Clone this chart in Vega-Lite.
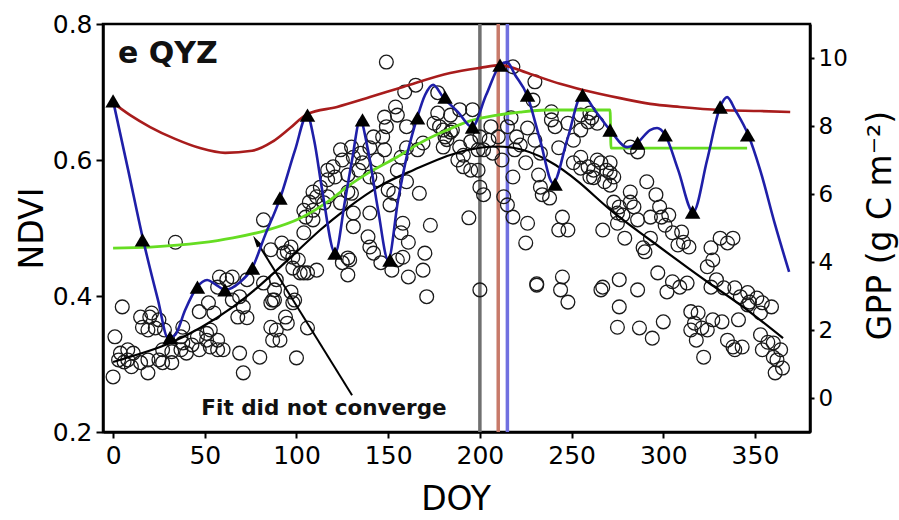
{
"$schema": "https://vega.github.io/schema/vega-lite/v6.json",
"width": 707, "height": 408,
"autosize": {"type": "none"},
"padding": {"left": 103, "top": 24, "right": 89, "bottom": 88},
"background": "white",
"config": {"font": "DejaVu Sans", "view": {"stroke": "black", "strokeWidth": 2.5},
 "axis": {"domainColor": "black", "domainWidth": 2.5, "tickColor": "black", "tickWidth": 2, "labelColor": "black", "titleColor": "black", "grid": false, "labelFont": "DejaVu Sans", "titleFont": "DejaVu Sans", "titleFontWeight": "normal"}},
"encoding": {"x": {"field": "d", "type": "quantitative", "scale": {"domain": [-5.5, 380], "nice": false, "zero": false},
  "axis": {"values": [0,50,100,150,200,250,300,350], "title": "DOY", "labelFontSize": 25, "titleFontSize": 33, "tickSize": 6, "labelPadding": 5, "titleX": 352.5, "titleY": 77, "titleAlign": "center", "titleBaseline": "alphabetic", "labelFlush": false}}},
"layer": [
 {"encoding": {"y": {"field": "n", "type": "quantitative", "scale": {"domain": [0.2, 0.8], "nice": false, "zero": false},
   "axis": {"orient": "left", "values": [0.2,0.4,0.6,0.8], "format": ".1f", "title": "NDVI", "labelFontSize": 25, "titleFontSize": 33, "tickSize": 7, "labelPadding": 4, "titleAngle": -90, "titleX": -61, "titleY": 204, "titleAlign": "center", "titleBaseline": "alphabetic"}}},
  "layer": [
   {"data": {"values": [{"d":200,"n":0.2,"n2":0.8,"c":"a"},{"d":210,"n":0.2,"n2":0.8,"c":"b"},{"d":215,"n":0.2,"n2":0.8,"c":"c"}]},
    "mark": {"type": "rule", "strokeWidth": 3.5},
    "encoding": {"y2": {"field": "n2"}, "color": {"field": "c", "type": "nominal", "scale": {"domain": ["a","b","c"], "range": ["#707070","#c87a6a","#7070e0"]}, "legend": null}}},
   {"data": {"values": [
{"d":0,"n":0.281},{"d":1,"n":0.340},{"d":5,"n":0.384},{"d":3,"n":0.306},{"d":4,"n":0.316},{"d":6,"n":0.303},{"d":8,"n":0.321},{"d":8,"n":0.306},{"d":10,"n":0.296},{"d":11,"n":0.316},{"d":15,"n":0.369},{"d":15,"n":0.302},{"d":16,"n":0.354},{"d":19,"n":0.350},{"d":19,"n":0.306},{"d":19,"n":0.287},{"d":20,"n":0.369},{"d":21,"n":0.375},{"d":23,"n":0.353},{"d":25,"n":0.365},{"d":25,"n":0.306},{"d":27,"n":0.321},{"d":27,"n":0.302},{"d":28,"n":0.350},{"d":32,"n":0.318},{"d":32,"n":0.302},{"d":34,"n":0.479},{"d":37,"n":0.340},{"d":37,"n":0.321},{"d":38,"n":0.354},{"d":38,"n":0.331},{"d":40,"n":0.316},{"d":43,"n":0.328},{"d":46,"n":0.340},{"d":47,"n":0.321},{"d":47,"n":0.377},
{"d":51,"n":0.345},{"d":51,"n":0.335},{"d":53,"n":0.325},{"d":53,"n":0.350},{"d":55,"n":0.375},{"d":57,"n":0.335},{"d":57,"n":0.321},{"d":57,"n":0.413},{"d":58,"n":0.428},{"d":60,"n":0.321},{"d":62,"n":0.424},{"d":65,"n":0.394},{"d":65,"n":0.428},{"d":68,"n":0.369},{"d":69,"n":0.316},{"d":69,"n":0.399},{"d":71,"n":0.384},{"d":71,"n":0.287},{"d":73,"n":0.368},{"d":73,"n":0.424},{"d":80,"n":0.310},{"d":82,"n":0.512},{"d":82,"n":0.419},{"d":86,"n":0.354},{"d":86,"n":0.390},{"d":86,"n":0.468},{"d":87,"n":0.335},{"d":87,"n":0.394},{"d":89,"n":0.350},{"d":89,"n":0.424},{"d":52,"n":0.390},
{"d":91,"n":0.335},{"d":92,"n":0.478},{"d":93,"n":0.463},{"d":95,"n":0.360},{"d":95,"n":0.465},{"d":97,"n":0.472},{"d":97,"n":0.406},{"d":98,"n":0.457},{"d":98,"n":0.390},{"d":98,"n":0.441},{"d":99,"n":0.394},{"d":100,"n":0.309},{"d":101,"n":0.453},{"d":102,"n":0.434},{"d":104,"n":0.493},{"d":104,"n":0.526},{"d":104,"n":0.434},{"d":105,"n":0.516},{"d":106,"n":0.353},{"d":106,"n":0.434},{"d":107,"n":0.538},{"d":109,"n":0.553},{"d":109,"n":0.526},{"d":109,"n":0.512},{"d":111,"n":0.546},{"d":111,"n":0.438},{"d":113,"n":0.560},{"d":115,"n":0.537},{"d":117,"n":0.571},{"d":117,"n":0.585},{"d":117,"n":0.546},{"d":88,"n":0.409},{"d":88,"n":0.394},{"d":94,"n":0.369},
{"d":120,"n":0.590},{"d":121,"n":0.575},{"d":124,"n":0.615},{"d":124,"n":0.537},{"d":125,"n":0.600},{"d":125,"n":0.449},{"d":128,"n":0.553},{"d":128,"n":0.456},{"d":128,"n":0.431},{"d":128,"n":0.578},{"d":129,"n":0.453},{"d":130,"n":0.619},{"d":130,"n":0.551},{"d":131,"n":0.604},{"d":131,"n":0.522},{"d":131,"n":0.502},{"d":134,"n":0.585},{"d":135,"n":0.610},{"d":136,"n":0.596},{"d":139,"n":0.487},{"d":140,"n":0.618},{"d":140,"n":0.575},{"d":140,"n":0.522},{"d":140,"n":0.472},{"d":142,"n":0.634},{"d":142,"n":0.463},{"d":144,"n":0.600},{"d":144,"n":0.571},{"d":146,"n":0.449},{"d":147,"n":0.634},{"d":148,"n":0.663},{"d":148,"n":0.615},{"d":149,"n":0.744},{"d":149,"n":0.649},{"d":150,"n":0.556},{"d":151,"n":0.534},{"d":152,"n":0.438},{"d":153,"n":0.551},{"d":154,"n":0.678},{"d":155,"n":0.666},{"d":155,"n":0.585},{"d":155,"n":0.453},{"d":157,"n":0.604},{"d":157,"n":0.493},{"d":158,"n":0.507},{"d":158,"n":0.457},{"d":159,"n":0.700},{"d":160,"n":0.649},{"d":160,"n":0.618},{"d":160,"n":0.568},{"d":161,"n":0.479},{"d":161,"n":0.428},{"d":165,"n":0.710},{"d":166,"n":0.615},{"d":167,"n":0.551},{"d":169,"n":0.438},{"d":169,"n":0.625},{"d":170,"n":0.463},{"d":171,"n":0.399},{"d":173,"n":0.504},{"d":175,"n":0.654},{"d":177,"n":0.669},{"d":177,"n":0.699},{"d":180,"n":0.644},{"d":181,"n":0.634},{"d":184,"n":0.641},
{"d":178,"n":0.649},{"d":180,"n":0.619},{"d":182,"n":0.630},{"d":184,"n":0.666},{"d":185,"n":0.644},{"d":188,"n":0.600},{"d":189,"n":0.674},{"d":189,"n":0.619},{"d":191,"n":0.607},{"d":191,"n":0.590},{"d":194,"n":0.515},{"d":195,"n":0.627},{"d":195,"n":0.585},{"d":196,"n":0.674},{"d":199,"n":0.615},{"d":199,"n":0.585},{"d":200,"n":0.634},{"d":200,"n":0.560},{"d":200,"n":0.409},{"d":202,"n":0.615},{"d":202,"n":0.549},{"d":205,"n":0.629},{"d":206,"n":0.649},{"d":207,"n":0.610},{"d":210,"n":0.634},{"d":212,"n":0.600},{"d":213,"n":0.546},{"d":215,"n":0.649},{"d":215,"n":0.534},{"d":217,"n":0.662},{"d":218,"n":0.516},{"d":218,"n":0.575},{"d":218,"n":0.737},{"d":219,"n":0.615},{"d":220,"n":0.634},{"d":222,"n":0.622},{"d":225,"n":0.596},{"d":225,"n":0.478},{"d":226,"n":0.507},{"d":226,"n":0.647},{"d":229,"n":0.688},{"d":230,"n":0.715},{"d":230,"n":0.629},{"d":231,"n":0.416},{"d":231,"n":0.418},{"d":232,"n":0.578},{"d":233,"n":0.610},{"d":233,"n":0.560},
{"d":234,"n":0.549},{"d":238,"n":0.544},{"d":239,"n":0.671},{"d":239,"n":0.659},{"d":241,"n":0.649},{"d":243,"n":0.618},{"d":243,"n":0.497},{"d":244,"n":0.409},{"d":245,"n":0.516},{"d":245,"n":0.428},{"d":248,"n":0.654},{"d":248,"n":0.391},{"d":248,"n":0.497},{"d":251,"n":0.629},{"d":251,"n":0.596},{"d":255,"n":0.666},{"d":255,"n":0.644},{"d":255,"n":0.604},{"d":255,"n":0.588},{"d":259,"n":0.656},{"d":259,"n":0.590},{"d":260,"n":0.669},{"d":260,"n":0.575},{"d":261,"n":0.662},{"d":262,"n":0.585},{"d":262,"n":0.574},{"d":264,"n":0.654},{"d":264,"n":0.600},{"d":266,"n":0.596},{"d":266,"n":0.409},{"d":267,"n":0.497},{"d":267,"n":0.413},{"d":268,"n":0.568},{"d":269,"n":0.585},{"d":271,"n":0.596},{"d":271,"n":0.581},{"d":271,"n":0.563},{"d":273,"n":0.575},{"d":273,"n":0.538},{"d":275,"n":0.522},{"d":275,"n":0.507},{"d":275,"n":0.354},{"d":276,"n":0.531},{"d":276,"n":0.424},{"d":276,"n":0.384},{"d":278,"n":0.519},{"d":279,"n":0.485},{"d":282,"n":0.619},{"d":282,"n":0.553},{"d":282,"n":0.538},{"d":284,"n":0.531},{"d":286,"n":0.612},{"d":286,"n":0.409},{"d":286,"n":0.512},{"d":287,"n":0.353},
{"d":289,"n":0.471},{"d":290,"n":0.465},{"d":291,"n":0.568},{"d":293,"n":0.516},{"d":293,"n":0.485},{"d":294,"n":0.338},{"d":296,"n":0.549},{"d":297,"n":0.434},{"d":298,"n":0.531},{"d":299,"n":0.516},{"d":300,"n":0.362},{"d":301,"n":0.504},{"d":302,"n":0.406},{"d":303,"n":0.519},{"d":305,"n":0.493},{"d":305,"n":0.421},{"d":308,"n":0.475},{"d":309,"n":0.413},{"d":310,"n":0.494},{"d":311,"n":0.479},{"d":313,"n":0.419},{"d":314,"n":0.472},{"d":315,"n":0.377},{"d":315,"n":0.350},{"d":317,"n":0.360},{"d":318,"n":0.335},{"d":319,"n":0.375},{"d":321,"n":0.353},{"d":322,"n":0.310},{"d":324,"n":0.350},{"d":324,"n":0.443},{"d":326,"n":0.471},{"d":326,"n":0.413},{"d":327,"n":0.453},{"d":327,"n":0.365},{"d":329,"n":0.424},{"d":331,"n":0.485},{"d":332,"n":0.362},{"d":333,"n":0.412},{"d":335,"n":0.478},{"d":335,"n":0.335},{"d":338,"n":0.485},{"d":339,"n":0.412},{"d":339,"n":0.321},{"d":341,"n":0.365},{"d":342,"n":0.399},{"d":343,"n":0.325},{"d":346,"n":0.405},{"d":346,"n":0.387},{"d":347,"n":0.391},{"d":351,"n":0.397},{"d":353,"n":0.375},{"d":353,"n":0.343},{"d":354,"n":0.390},{"d":354,"n":0.321},{"d":357,"n":0.332},{"d":359,"n":0.384},{"d":360,"n":0.331},{"d":360,"n":0.310},{"d":361,"n":0.287},{"d":362,"n":0.306},{"d":364,"n":0.321},{"d":365,"n":0.294},{"d":338,"n":0.325}
   ]},
    "mark": {"type": "point", "shape": "circle", "filled": false, "stroke": "#1a1a1a", "strokeWidth": 1.3, "size": 190, "opacity": 1},
    "encoding": {}},
   {"data": {"values": [{"d":0,"n":0.303},{"d":14.7,"n":0.315},{"d":29.4,"n":0.329},{"d":47.4,"n":0.353},{"d":65.4,"n":0.384},{"d":80.2,"n":0.416},{"d":96.5,"n":0.456},{"d":112.9,"n":0.497},{"d":127.6,"n":0.529},{"d":145.6,"n":0.562},{"d":163.6,"n":0.585},{"d":182.1,"n":0.606},{"d":200.1,"n":0.618},{"d":218.1,"n":0.618},{"d":236.6,"n":0.600},{"d":254.6,"n":0.566},{"d":271,"n":0.527},{"d":289,"n":0.490},{"d":307.5,"n":0.453},{"d":325.5,"n":0.418},{"d":343.5,"n":0.384},{"d":365.3,"n":0.338}]},
    "mark": {"type": "line", "color": "black", "strokeWidth": 2.2, "interpolate": "natural"},
    "encoding": {}},
   {"data": {"values": [{"d":130.3,"n":0.254},{"d":78.1,"n":0.481}]},
    "mark": {"type": "line", "color": "black", "strokeWidth": 2},
    "encoding": {}},
   {"data": {"values": [{"d":78.1,"n":0.481}]},
    "mark": {"type": "point", "shape": "M0,-1L0.5,1L-0.5,1Z", "filled": true, "color": "black", "opacity": 1, "size": 144, "angle": 328},
    "encoding": {}},
   {"data": {"values": [{"d":2.7,"n":0.743,"label":"e QYZ"}]},
    "mark": {"type": "text", "align": "left", "baseline": "alphabetic", "fontSize": 30, "fontWeight": "bold", "color": "#111"},
    "encoding": {"text": {"field": "label"}}},
   {"data": {"values": [{"d":115,"n":0.225,"label":"Fit did not converge"}]},
    "mark": {"type": "text", "align": "center", "baseline": "alphabetic", "fontSize": 21.5, "fontWeight": "bold", "color": "#111"},
    "encoding": {"text": {"field": "label"}}}
  ]},
 {"encoding": {"y": {"field": "g", "type": "quantitative", "scale": {"domain": [-1, 11], "nice": false, "zero": false},
   "axis": {"orient": "right", "values": [0,2,4,6,8,10], "title": "GPP (g C m⁻²)", "labelFontSize": 23, "titleFontSize": 33, "tickSize": 4, "labelPadding": 4, "titleAngle": -90, "titleX": 80, "titleY": 201, "titleAlign": "center", "titleBaseline": "alphabetic"}}},
  "layer": [
   {"data": {"values": [{"d":0,"g":4.41},{"d":20.2,"g":4.44},{"d":47.4,"g":4.56},{"d":65.4,"g":4.71},{"d":84,"g":4.94},{"d":102,"g":5.29},{"d":118.3,"g":5.82},{"d":127.6,"g":6.21},{"d":140.1,"g":6.65},{"d":154.9,"g":7.09},{"d":167.4,"g":7.5},{"d":182.1,"g":7.88},{"d":194.7,"g":8.15},{"d":209.4,"g":8.32},{"d":221.9,"g":8.41},{"d":236.6,"g":8.47},{"d":254.6,"g":8.47},{"d":271,"g":8.47},{"d":271.5,"g":7.35},{"d":345.7,"g":7.35}]},
    "mark": {"type": "line", "color": "#66dd22", "strokeWidth": 2.8, "interpolate": "monotone"},
    "encoding": {}},
   {"data": {"values": [{"d":0,"g":8.68},{"d":9.3,"g":8.32},{"d":20.2,"g":7.97},{"d":33.8,"g":7.62},{"d":47.4,"g":7.35},{"d":61.1,"g":7.21},{"d":75.8,"g":7.27},{"d":86.7,"g":7.53},{"d":96.5,"g":7.94},{"d":105.8,"g":8.35},{"d":122.1,"g":8.56},{"d":140.1,"g":8.85},{"d":158.1,"g":9.15},{"d":183.8,"g":9.56},{"d":200.1,"g":9.71},{"d":211,"g":9.79},{"d":227.4,"g":9.53},{"d":243.7,"g":9.24},{"d":256.3,"g":9.06},{"d":276.4,"g":8.82},{"d":292.8,"g":8.65},{"d":309.2,"g":8.56},{"d":331,"g":8.47},{"d":352.8,"g":8.44},{"d":369.2,"g":8.41}]},
    "mark": {"type": "line", "color": "#a81c1c", "strokeWidth": 2.6, "interpolate": "monotone"},
    "encoding": {}},
   {"data": {"values": [{"d":0,"g":8.74},{"d":8.2,"g":6.71},{"d":16.4,"g":4.65},{"d":24.5,"g":2.88},{"d":30,"g":1.76},{"d":33.8,"g":1.85},{"d":39.3,"g":2.59},{"d":45.8,"g":3.26},{"d":51.3,"g":3.47},{"d":55.6,"g":3.35},{"d":61.1,"g":3.18},{"d":69.3,"g":3.41},{"d":75.8,"g":3.82},{"d":82.9,"g":4.79},{"d":91.1,"g":5.88},{"d":99.2,"g":7.29},{"d":105.8,"g":8.32},{"d":109.6,"g":7.59},{"d":114,"g":6.12},{"d":121.1,"g":4.26},{"d":126.5,"g":5.82},{"d":130.3,"g":7.0},{"d":134.7,"g":8.18},{"d":139,"g":7.29},{"d":144.5,"g":5.53},{"d":150,"g":4.06},{"d":155.4,"g":5.82},{"d":160.9,"g":7.29},{"d":165.8,"g":8.24},{"d":170.1,"g":8.91},{"d":174.5,"g":9.21},{"d":179.9,"g":8.85},{"d":188.1,"g":8.41},{"d":195.7,"g":7.97},{"d":203.4,"g":8.91},{"d":211,"g":9.79},{"d":214.8,"g":9.88},{"d":219.2,"g":9.5},{"d":225.7,"g":8.91},{"d":232.8,"g":7.59},{"d":239.9,"g":6.32},{"d":247.6,"g":7.59},{"d":255.7,"g":8.91},{"d":263.4,"g":8.41},{"d":271,"g":7.88},{"d":280.3,"g":7.38},{"d":285.7,"g":7.5},{"d":292.8,"g":7.88},{"d":296.6,"g":7.94},{"d":301,"g":7.74},{"d":308.1,"g":6.71},{"d":316.3,"g":5.47},{"d":323.9,"g":7.0},{"d":331,"g":8.56},{"d":334.8,"g":8.85},{"d":339.2,"g":8.47},{"d":346.3,"g":7.74},{"d":352.8,"g":6.71},{"d":361,"g":5.09},{"d":368.6,"g":3.71}]},
    "mark": {"type": "line", "color": "#1f1fa8", "strokeWidth": 2.6, "interpolate": "monotone"},
    "encoding": {}},
   {"data": {"values": [{"d":0,"g":8.74},{"d":16,"g":4.65},{"d":31,"g":1.77},{"d":46,"g":3.26},{"d":61,"g":3.18},{"d":76,"g":3.82},{"d":91,"g":5.88},{"d":106,"g":8.32},{"d":121,"g":4.26},{"d":136,"g":8.18},{"d":151,"g":4.06},{"d":166,"g":8.24},{"d":181,"g":8.85},{"d":196,"g":7.97},{"d":211,"g":9.79},{"d":226,"g":8.91},{"d":241,"g":6.29},{"d":256,"g":8.91},{"d":271,"g":7.88},{"d":286,"g":7.5},{"d":301,"g":7.74},{"d":316,"g":5.47},{"d":331,"g":8.56},{"d":346,"g":7.74}]},
    "mark": {"type": "point", "shape": "triangle-up", "filled": true, "color": "black", "opacity": 1, "size": 240},
    "encoding": {}}
  ]}
],
"resolve": {"scale": {"y": "independent"}}
}
